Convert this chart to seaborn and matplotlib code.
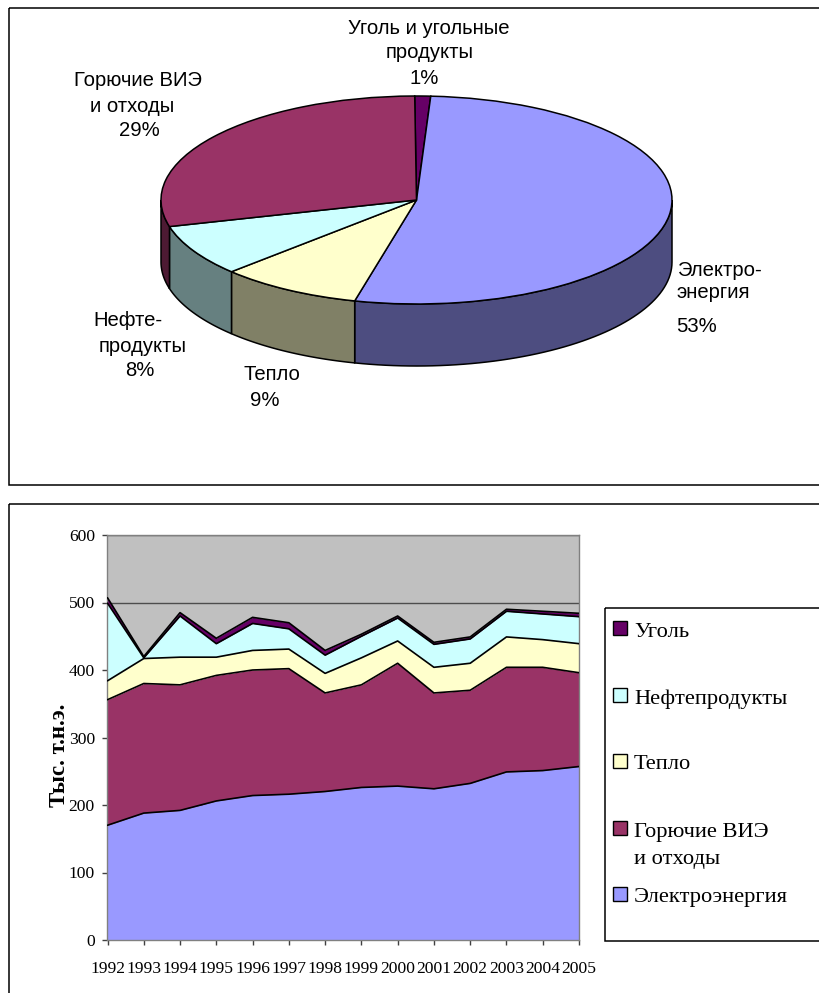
import numpy as np
import pandas as pd
import matplotlib
matplotlib.use("Agg")
import matplotlib.pyplot as plt
from matplotlib.patches import Polygon, Rectangle
import seaborn as sns

# Final consumption structure, percent
pie_names = ["Уголь", "Электроэнергия", "Тепло", "Нефтепродукты", "Горючие ВИЭ"]
pie_values = [1, 53, 9, 8, 29]
pie_colors = ["#660066", "#9999FF", "#FFFFCC", "#CCFFFF", "#993366"]
pie_sides = ["#330033", "#4D4D80", "#808066", "#668080", "#4D1A33"]

# Consumption by source, thousand toe
years = list(range(1992, 2006))
electricity = [170, 188, 192, 206, 214, 216, 220, 226, 228, 224, 232, 249, 251, 257]
renewables = [186, 192, 186, 186, 186, 186, 146, 152, 182, 142, 138, 155, 153, 139]
heat = [28, 37, 41, 27, 29, 29, 29, 40, 33, 38, 40, 45, 41, 43]
oil = [115, 1, 61, 20, 40, 30, 27, 32, 34, 34, 36, 38, 38, 40]
coal = [8, 2, 5, 8, 9, 9, 7, 3, 3, 3, 3, 3, 4, 5]
y_ticks = [0, 100, 200, 300, 400, 500, 600]

area_colors = ["#9999FF", "#993366", "#FFFFCC", "#CCFFFF", "#660066"]
area_names = ["Электроэнергия", "Горючие ВИЭ и отходы", "Тепло", "Нефтепродукты", "Уголь"]

legend_labels = ["Уголь", "Нефтепродукты", "Тепло", "Горючие ВИЭ\nи отходы", "Электроэнергия"]
legend_colors = ["#660066", "#CCFFFF", "#FFFFCC", "#993366", "#9999FF"]
legend_swatch_y = [628, 694.5, 760.5, 827.5, 894]
legend_baseline_y = [637, 704, 769, 837, 902]

# One entry per text line: text, horizontal centre, vertical centre
pie_label_lines = [
    ("Уголь и угольные", 429, 28), ("продукты", 430, 52), ("1%", 424, 79),
    ("Горючие ВИЭ", 138, 80), ("и отходы", 132, 106), ("29%", 139.5, 131),
    ("Нефте-", 128, 321), ("продукты", 142.5, 346), ("8%", 140, 370),
    ("Тепло", 272, 375), ("9%", 265, 401),
    ("Электро-", 719, 271), ("энергия", 713, 293), ("53%", 697, 327),
]

sns.set_theme(style="ticks")
SANS = "Liberation Sans"
SERIF = "Liberation Serif"
W, H = 820, 993
PX = 72 / 100  # points per pixel at this dpi
fig = plt.figure(figsize=(W / 100, H / 100), dpi=100, facecolor="white")


def rect(left, top, right, bottom):
    return [left / W, 1 - bottom / H, (right - left) / W, (bottom - top) / H]


# Overlay in pixel units for frames, legend and free-standing labels
over = fig.add_axes([0, 0, 1, 1], zorder=0)
over.set_xlim(0, W)
over.set_ylim(H, 0)
over.axis("off")
for x0, y0, x1, y1 in [(9, 8, 830, 485), (9, 504, 830, 1010), (605.5, 607.5, 830, 941)]:
    over.add_patch(Rectangle((x0, y0), x1 - x0, y1 - y0, fc="none", ec="black", lw=1.1))

# Tilted pie: flat top from ax.pie, the rim built from the same shares
depth = 62 / 104
start_angle = 90.4
pie_ax = fig.add_axes(rect(161, 96, 672, 366), zorder=1)
wedges, _ = pie_ax.pie(
    pie_values, colors=pie_colors, startangle=start_angle, counterclock=False,
    wedgeprops={"edgecolor": "black", "linewidth": 1.1, "clip_on": False, "zorder": 3},
)
pie_ax.set_aspect("auto")
pie_ax.set_xlim(-1, 1)
pie_ax.set_ylim(-1 - depth, 1)
edges = np.cumsum([0] + pie_values) / sum(pie_values) * 360 + (90 - start_angle)
for a0, a1, side in zip(edges[:-1], edges[1:], pie_sides):
    lo, hi = max(a0, 90), min(a1, 270)
    if hi <= lo:
        continue
    t = np.radians(np.linspace(lo, hi, 60))
    top = np.column_stack([np.sin(t), np.cos(t)])
    low = top[::-1] - [0, depth]
    pie_ax.add_patch(Polygon(np.vstack([top, low]), closed=True, fc=side, ec="black",
                             lw=1.1, clip_on=False, zorder=2))

for text, x, y in pie_label_lines:
    over.text(x, y, text, ha="center", va="center", family=SANS, fontsize=14.6, color="black")

# Stacked area chart
ax = fig.add_axes(rect(107.5, 535, 579, 940), zorder=1)
ax.set_facecolor("#C0C0C0")
series = [electricity, renewables, heat, oil, coal]
ax.stackplot(years, series, colors=area_colors, linewidth=0, zorder=2)
tops = np.cumsum(series, axis=0)
outline = pd.DataFrame({
    "year": np.tile(years, len(series)),
    "top": tops.ravel(),
    "source": np.repeat(area_names, len(years)),
})
sns.lineplot(data=outline, x="year", y="top", hue="source", palette=["black"] * len(series),
             legend=False, linewidth=1.2, ax=ax, zorder=3, errorbar=None, sort=False)
ax.set_xlim(years[0], years[-1])
ax.set_ylim(0, 600)
ax.set_xticks(years)
ax.set_yticks(y_ticks)
ax.grid(axis="y", color="#4d4d4d", lw=1, zorder=1)
ax.set_axisbelow(True)
ax.set_xlabel("")
ax.set_ylabel("")
for s in ax.spines.values():
    s.set_color("#808080")
    s.set_linewidth(1)
ax.tick_params(axis="x", length=5 * PX, width=1, color="#404040", pad=11.5)
ax.tick_params(axis="y", length=5 * PX, width=1, color="#404040", pad=5.4)
for lab in ax.get_xticklabels() + ax.get_yticklabels():
    lab.set_family(SERIF)
    lab.set_fontsize(12.6)
    lab.set_color("black")
over.text(59.5, 755, "Тыс. т.н.э.", rotation=90, ha="center", va="center", family=SERIF,
          fontsize=16.5, fontweight="bold", color="black")

# Legend entries
for label, color, sy, by in zip(legend_labels, legend_colors, legend_swatch_y, legend_baseline_y):
    over.add_patch(Rectangle((613.5, sy - 7), 14, 14, fc=color, ec="black", lw=1))
    for i, line in enumerate(label.split("\n")):
        over.text(634, by + 27 * i, line, ha="left", va="baseline", family=SERIF, fontsize=16.2,
                  color="black")

fig.savefig("out.png", dpi=100, facecolor="white")
